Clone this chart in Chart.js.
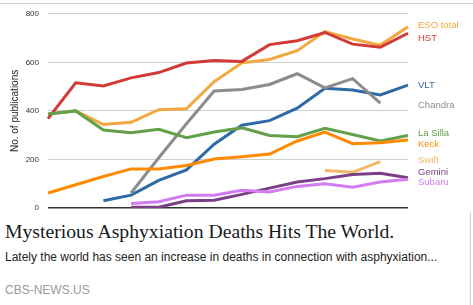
<!DOCTYPE html>
<html>
<head>
<meta charset="utf-8">
<script src="https://cdn.jsdelivr.net/npm/chart.js@4"></script>
<style>
  html, body { margin: 0; padding: 0; background: #fff; }
  body { width: 473px; height: 305px; position: relative; overflow: hidden; }
  #topLine { position: absolute; left: 0; top: 3px; width: 473px; height: 1px; background: #d0d0d0; }
  #sideLine { position: absolute; left: 470px; top: 212px; width: 1px; height: 93px; background: #d0d0d0; }
  #chartBox { position: absolute; left: 0; top: 0; width: 473px; height: 213px; overflow: hidden; }
  #chartInner { width: 473px; height: 225px; }
  #title { position: absolute; left: 5px; top: 222px; font: 19.7px "Liberation Serif", Georgia, serif; line-height: 19px; color: #1a1a1a; white-space: nowrap; }
  #summary { position: absolute; left: 5px; top: 251px; font: 12px "Liberation Sans", Arial, sans-serif; line-height: 12px; color: #222; white-space: nowrap; }
  #source { position: absolute; left: 5px; top: 284px; font: 12px "Liberation Sans", Arial, sans-serif; line-height: 12px; color: #9a9a9a; white-space: nowrap; }
</style>
</head>
<body>
<div id="topLine"></div>
<div id="chartBox"><div id="chartInner"><canvas id="pubChart"></canvas></div></div>
<div id="sideLine"></div>
<div id="title">Mysterious Asphyxiation Deaths Hits The World.</div>
<div id="summary">Lately the world has seen an increase in deaths in connection with asphyxiation...</div>
<div id="source">CBS-NEWS.US</div>

<script>
// Years on the x axis
const years = ['1999', '2000', '2001', '2002', '2003', '2004', '2005',
               '2006', '2007', '2008', '2009', '2010', '2011', '2012'];

// Publications per facility
const hstPubs     = [368, 516, 503, 536, 558, 597, 608, 604, 673, 689, 723, 675, 662, 720];
const esoPubs     = [387, 400, 344, 353, 405, 409, 520, 598, 612, 648, 727, 696, 671, 747];
const vltPubs     = [null, null, 30, 53, 114, 157, 263, 341, 360, 411, 493, 486, 466, 506];
const chandraPubs = [null, null, null, 62, 207, 347, 482, 488, 509, 553, 495, 533, 432, null];
const laSillaPubs = [387, 400, 321, 310, 324, 290, 313, 330, 299, 294, 328, 303, 276, 299];
const keckPubs    = [62, 96, 130, 161, 161, 175, 202, 211, 222, 276, 313, 265, 269, 280];
const swiftPubs   = [null, null, null, null, null, null, null, null, null, null, 154, 147, 191, null];
const geminiPubs  = [null, null, null, 3, 3, 30, 32, 56, 82, 107, 121, 138, 143, 125];
const subaruPubs  = [null, null, null, 19, 26, 53, 53, 73, 66, 89, 100, 86, 107, 118];

// Y ticks
const yTicks = [0, 200, 400, 600, 800];

// Where the right-hand series names sit (in data units)
const labelLevels = {
    'ESO total': 752, 'HST': 700, 'VLT': 505, 'Chandra': 423,
    'La Silla': 309, 'Keck': 262, 'Swift': 195, 'Gemini': 148, 'Subaru': 104
};

function series(label, data, color) {
    return {
        label: label,
        data: data,
        borderColor: color,
        backgroundColor: color,
        borderWidth: 3,
        pointRadius: 0,
        tension: 0,
        fill: false
    };
}

// Draw the series names at the right of the plot
const endLabels = {
    id: 'endLabels',
    afterDatasetsDraw(chart) {
        const ctx = chart.ctx;
        const y = chart.scales.y;
        ctx.save();
        ctx.font = '9.5px "Liberation Sans", Arial, sans-serif';
        ctx.textBaseline = 'middle';
        ctx.textAlign = 'left';
        chart.data.datasets.forEach(ds => {
            ctx.fillStyle = ds.borderColor;
            ctx.fillText(ds.label, chart.chartArea.right + 10, y.getPixelForValue(labelLevels[ds.label]));
        });
        ctx.restore();
    }
};

Chart.defaults.font.family = '"Liberation Sans", Arial, sans-serif';
Chart.defaults.animation = false;

new Chart(document.getElementById('pubChart'), {
    type: 'line',
    data: {
        labels: years,
        datasets: [
            series('Subaru', subaruPubs, '#d37cf2'),
            series('Gemini', geminiPubs, '#7b3f88'),
            series('Swift', swiftPubs, '#f3b866'),
            series('Keck', keckPubs, '#ff8a00'),
            series('La Silla', laSillaPubs, '#62a14a'),
            series('Chandra', chandraPubs, '#8c8c8c'),
            series('VLT', vltPubs, '#2e6aa5'),
            series('HST', hstPubs, '#d13a37'),
            series('ESO total', esoPubs, '#f2a83e')
        ]
    },
    options: {
        responsive: true,
        maintainAspectRatio: false,
        layout: { padding: { left: 0, right: 65, top: 11, bottom: 0 } },
        plugins: {
            legend: { display: false },
            tooltip: { enabled: false }
        },
        scales: {
            x: {
                offset: false,
                grid: { display: false },
                border: { display: false },
                ticks: { color: '#aaa', font: { size: 8 }, padding: 3, maxRotation: 0, autoSkip: false },
                afterFit(scale) { scale.height = 17; }
            },
            y: {
                min: 0,
                max: 800,
                afterBuildTicks(scale) { scale.ticks = yTicks.map(v => ({ value: v })); },
                grid: {
                    drawTicks: false,
                    color: c => c.tick && c.tick.value === 0 ? '#333' : '#cfcfcf',
                    lineWidth: c => c.tick && c.tick.value === 0 ? 1.5 : 1
                },
                border: { display: false },
                ticks: { color: '#333', font: { size: 8 }, padding: 9 },
                title: { display: true, text: 'No. of publications', color: '#222', font: { size: 10 }, padding: { top: 9, bottom: 4 } },
                afterFit(scale) { scale.width = 48; }
            }
        }
    },
    plugins: [endLabels]
});
</script>
</body>
</html>
